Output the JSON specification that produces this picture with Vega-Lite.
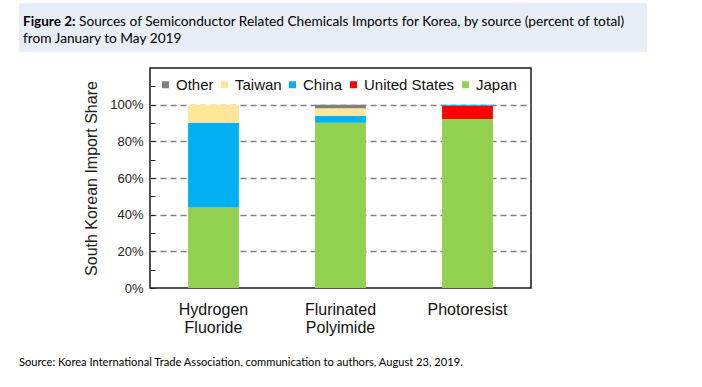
{
  "$schema": "https://vega.github.io/schema/vega-lite/v6.json",
  "padding": {"left": 19, "top": 3, "right": 0, "bottom": 0},
  "background": "white",
  "config": {"view": {"stroke": null}, "font": "Liberation Sans"},
  "spacing": 15,
  "vconcat": [
    {
      "width": 628,
      "height": 49,
      "view": {"fill": "#e8eef8", "stroke": null},
      "encoding": {
        "x": {"datum": 0, "type": "quantitative", "scale": {"domain": [0, 1], "nice": false, "zero": false}, "axis": null},
        "y": {"field": "line", "type": "ordinal", "scale": {"domain": [1, 2], "range": [23, 40], "padding": 0}, "axis": null},
        "text": {"field": "text"}
      },
      "layer": [
        {
          "data": {"values": [{"line": 1, "text": "Figure 2:"}]},
          "mark": {"type": "text", "align": "left", "baseline": "alphabetic", "font": "Lato", "fontSize": 13.5, "fontWeight": "bold", "dx": 4, "color": "#000"}
        },
        {
          "data": {"values": [{"line": 1, "text": "Sources of Semiconductor Related Chemicals Imports for Korea, by source (percent of total)"}]},
          "mark": {"type": "text", "align": "left", "baseline": "alphabetic", "font": "Lato", "fontSize": 13.7, "dx": 60, "color": "#000"}
        },
        {
          "data": {"values": [{"line": 2, "text": "from January to May 2019"}]},
          "mark": {"type": "text", "align": "left", "baseline": "alphabetic", "font": "Lato", "fontSize": 13.7, "dx": 4, "color": "#000"}
        }
      ]
    },
    {
      "spacing": 0,
      "hconcat": [
        {
          "width": 64,
          "height": 10,
          "view": {"stroke": null},
          "data": {"values": []},
          "mark": {"type": "text"},
          "encoding": {}
        },
        {
          "width": 381,
          "height": 220,
          "view": {"stroke": "#1a1a1a", "strokeWidth": 1.5},
          "data": {
            "values": [
              {"chemical": "Hydrogen Fluoride", "source": "Japan", "share": 0.439},
              {"chemical": "Hydrogen Fluoride", "source": "China", "share": 0.463},
              {"chemical": "Hydrogen Fluoride", "source": "Taiwan", "share": 0.098},
              {"chemical": "Flurinated Polyimide", "source": "Japan", "share": 0.902},
              {"chemical": "Flurinated Polyimide", "source": "China", "share": 0.038},
              {"chemical": "Flurinated Polyimide", "source": "Taiwan", "share": 0.04},
              {"chemical": "Flurinated Polyimide", "source": "Other", "share": 0.02},
              {"chemical": "Photoresist", "source": "Japan", "share": 0.922},
              {"chemical": "Photoresist", "source": "United States", "share": 0.072},
              {"chemical": "Photoresist", "source": "China", "share": 0.005}
            ]
          },
          "transform": [
            {"calculate": "indexof(['Japan', 'United States', 'China', 'Taiwan', 'Other'], datum.source)", "as": "stackOrder"}
          ],
          "mark": {"type": "bar"},
          "encoding": {
            "x": {
              "field": "chemical",
              "type": "nominal",
              "sort": ["Hydrogen Fluoride", "Flurinated Polyimide", "Photoresist"],
              "scale": {"paddingInner": 0.6, "paddingOuter": 0.3},
              "axis": {
                "title": null,
                "labelAngle": 0,
                "ticks": false,
                "domain": false,
                "labelExpr": "split(datum.label, ' ')",
                "labelFontSize": 16,
                "labelLineHeight": 18,
                "labelPadding": 13,
                "labelColor": "#111"
              }
            },
            "y": {
              "field": "share",
              "type": "quantitative",
              "stack": "zero",
              "scale": {"domain": [0, 1.2], "nice": false},
              "axis": {
                "title": "South Korean Import Share",
                "titleFontSize": 16,
                "titleFontWeight": "normal",
                "titleColor": "#222",
                "titlePadding": 10,
                "values": [0, 0.1, 0.2, 0.3, 0.4, 0.5, 0.6, 0.7, 0.8, 0.9, 1, 1.1],
                "labelExpr": "round(datum.value * 10) % 2 == 0 ? format(datum.value, '.0%') : ''",
                "labelFontSize": 13,
                "labelColor": "#222",
                "labelPadding": 12,
                "labelOverlap": false,
                "domain": false,
                "ticks": true,
                "tickSize": -5,
                "tickColor": "#222",
                "tickWidth": 1,
                "grid": true,
                "gridColor": "#7f7f7f",
                "gridDash": [6, 4],
                "gridWidth": 1.5,
                "gridOpacity": {"condition": {"test": "round(datum.value * 10) % 2 == 1 || datum.value == 0", "value": 0}, "value": 1}
              }
            },
            "color": {
              "field": "source",
              "type": "nominal",
              "scale": {
                "domain": ["Other", "Taiwan", "China", "United States", "Japan"],
                "range": ["#7f7f7f", "#ffe699", "#00b0f0", "#ff0000", "#92d050"]
              },
              "legend": {
                "title": null,
                "orient": "none",
                "legendX": 139,
                "legendY": 74,
                "direction": "horizontal",
                "symbolType": "square",
                "symbolSize": 49,
                "symbolStrokeWidth": 0,
                "labelFontSize": 15,
                "labelColor": "#111",
                "labelOffset": 3,
                "columnPadding": 3,
                "padding": 0
              }
            },
            "order": {"field": "stackOrder", "type": "quantitative"}
          }
        }
      ]
    },
    {
      "width": 450,
      "height": 24,
      "data": {"values": [{"text": "Source: Korea International Trade Association, communication to authors, August 23, 2019."}]},
      "mark": {"type": "text", "align": "left", "baseline": "middle", "font": "Lato", "fontSize": 11.15, "color": "#000"},
      "encoding": {
        "x": {"datum": 0, "type": "quantitative", "scale": {"domain": [0, 1], "nice": false, "zero": false}, "axis": null},
        "text": {"field": "text"}
      }
    }
  ]
}
